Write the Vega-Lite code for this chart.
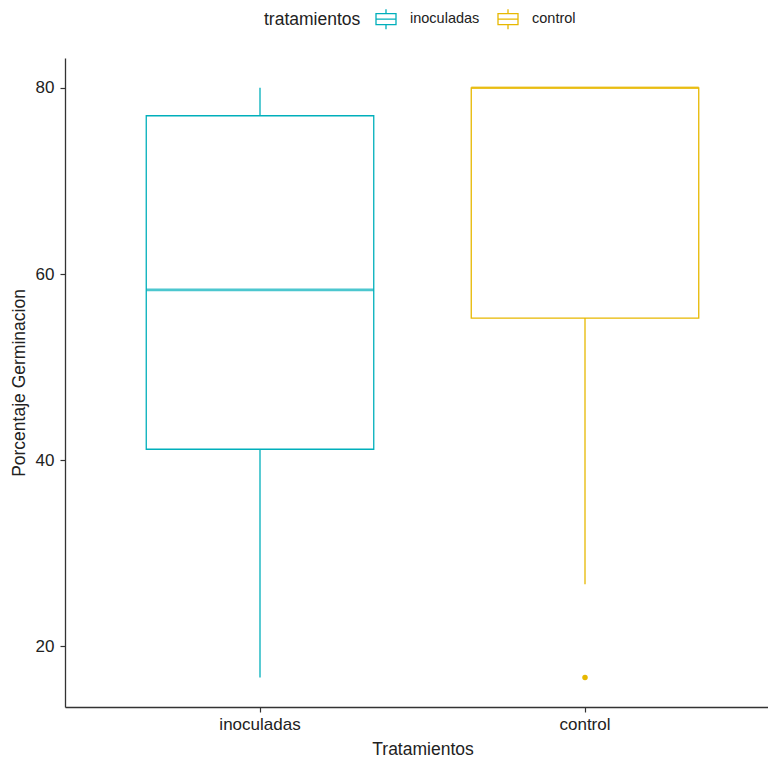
{
  "$schema": "https://vega.github.io/schema/vega-lite/v6.json",
  "autosize": "none",
  "padding": {"left": 65, "top": 58, "right": 0, "bottom": 52},
  "width": 703,
  "height": 649,
  "background": "white",
  "config": {
    "view": {"stroke": null},
    "font": "Liberation Sans",
    "axis": {
      "grid": false,
      "domainColor": "#333333",
      "domainWidth": 1.3,
      "tickColor": "#333333",
      "tickWidth": 1.2,
      "tickSize": 5,
      "labelColor": "#222222",
      "titleColor": "#222222",
      "labelFont": "Liberation Sans",
      "titleFont": "Liberation Sans",
      "labelFontSize": 17,
      "titleFontSize": 17.5,
      "titleFontWeight": "normal"
    }
  },
  "datasets": {
    "stats": [
      {"tratamientos": "inoculadas", "lower": 16.67, "q1": 41.18, "median": 58.3, "q3": 77.0, "upper": 80},
      {"tratamientos": "control", "lower": 26.67, "q1": 55.27, "median": 80, "q3": 80, "upper": 80}
    ],
    "outliers": [
      {"tratamientos": "control", "value": 16.67}
    ]
  },
  "encoding": {
    "x": {
      "field": "tratamientos",
      "type": "nominal",
      "sort": ["inoculadas", "control"],
      "scale": {"domain": ["inoculadas", "control"], "range": [0, 715], "paddingInner": 0, "paddingOuter": 0.1},
      "axis": {"title": "Tratamientos", "labelAngle": 0, "labelPadding": 4, "titlePadding": 8}
    }
  },
  "layer": [
    {
      "data": {"name": "stats"},
      "mark": {"type": "rule", "strokeWidth": 1.3},
      "encoding": {
        "y": {"field": "lower", "type": "quantitative",
          "scale": {"domain": [13.5, 83.2], "nice": false, "zero": false},
          "axis": {"title": "Porcentaje Germinacion", "values": [20, 40, 60, 80], "labelPadding": 6, "titlePadding": 7}},
        "y2": {"field": "q1"},
        "color": {"field": "tratamientos", "type": "nominal",
          "scale": {"domain": ["inoculadas", "control"], "range": ["#00AFBB", "#E7B800"]},
          "legend": {
            "title": "tratamientos",
            "orient": "none",
            "direction": "horizontal",
            "legendX": 199,
            "legendY": -50,
            "titleOrient": "left",
            "titleFontSize": 17.5,
            "titleFontWeight": "normal",
            "titleColor": "#222222",
            "titleFont": "Liberation Sans",
            "titlePadding": 14,
            "labelFontSize": 14.5,
            "labelColor": "#222222",
            "labelFont": "Liberation Sans",
            "labelOffset": 13,
            "columnPadding": 15,
            "symbolType": "M-1,-0.55H1V0.55H-1Z M-1,0H1 M0,-1V-0.55 M0,0.55V1",
            "symbolSize": 400,
            "symbolStrokeWidth": 1.3,
            "symbolFillColor": "transparent",
            "encode": {
              "symbols": {
                "update": {
                  "fillOpacity": {"value": 0},
                  "strokeOpacity": {"value": 1},
                  "strokeWidth": {"value": 1.3}
                }
              }
            }
          }}
      }
    },
    {
      "data": {"name": "stats"},
      "mark": {"type": "rule", "strokeWidth": 1.3},
      "encoding": {
        "y": {"field": "q3", "type": "quantitative"},
        "y2": {"field": "upper"},
        "color": {"field": "tratamientos", "type": "nominal"}
      }
    },
    {
      "data": {"name": "stats"},
      "mark": {"type": "bar", "filled": false, "strokeWidth": 1.3, "width": {"band": 0.7}},
      "encoding": {
        "y": {"field": "q1", "type": "quantitative"},
        "y2": {"field": "q3"},
        "color": {"field": "tratamientos", "type": "nominal"}
      }
    },
    {
      "data": {"name": "stats"},
      "mark": {"type": "tick", "thickness": 2.6, "size": 227.5, "orient": "horizontal"},
      "encoding": {
        "y": {"field": "median", "type": "quantitative"},
        "color": {"field": "tratamientos", "type": "nominal"}
      }
    },
    {
      "data": {"name": "outliers"},
      "mark": {"type": "point", "filled": true, "size": 30, "opacity": 1, "color": "#E7B800"},
      "encoding": {
        "y": {"field": "value", "type": "quantitative"}
      }
    }
  ]
}
